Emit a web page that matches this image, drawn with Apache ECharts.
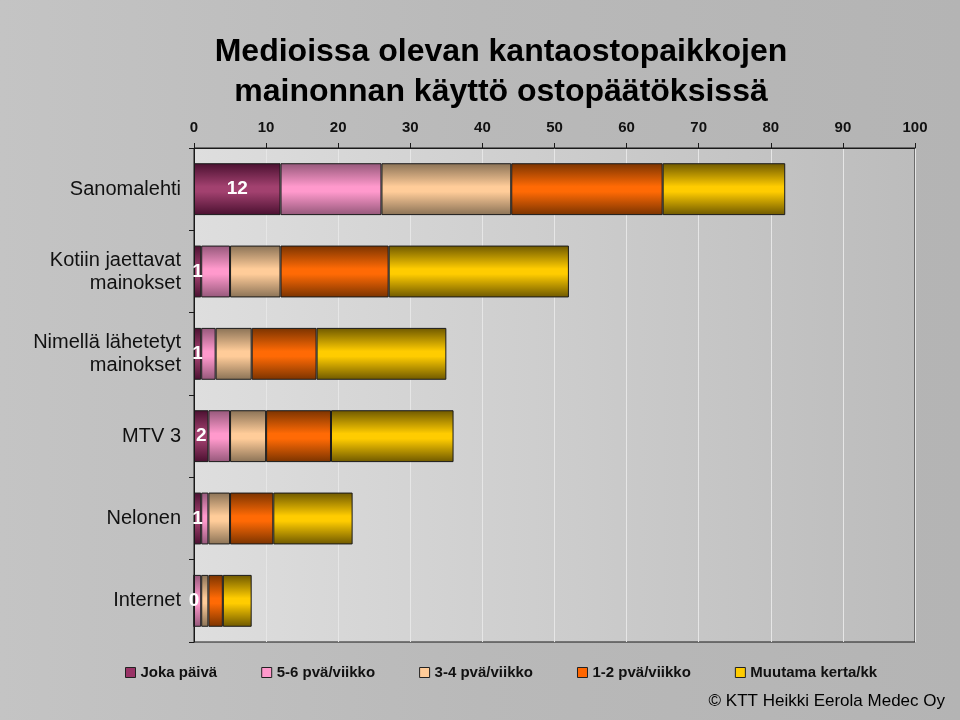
<!DOCTYPE html>
<html>
<head>
<meta charset="utf-8">
<script src="https://cdn.jsdelivr.net/npm/echarts@6/dist/echarts.min.js"></script>
<style>
html,body{margin:0;padding:0;}
#chart{width:960px;height:720px;background:linear-gradient(90deg,#c4c4c4 0%,#b9b9b9 50%,#b4b4b4 100%);}
</style>
</head>
<body>
<div id="chart"></div>
<script>
var titleLines = ['Medioissa olevan kantaostopaikkojen', 'mainonnan käyttö ostopäätöksissä'];
var categories = ['Sanomalehti', 'Kotiin jaettavat\nmainokset', 'Nimellä lähetetyt\nmainokset', 'MTV 3', 'Nelonen', 'Internet'];
var seriesNames = ['Joka päivä', '5-6 pvä/viikko', '3-4 pvä/viikko', '1-2 pvä/viikko', 'Muutama kerta/kk'];
var jokaPaiva = [12, 1, 1, 2, 1, 0];
var viikko56 = [14, 4, 2, 3, 1, 1];
var viikko34 = [18, 7, 5, 5, 3, 1];
var viikko12 = [21, 15, 9, 9, 6, 2];
var muutama = [17, 25, 18, 17, 11, 4];
var xTicks = [0, 10, 20, 30, 40, 50, 60, 70, 80, 90, 100];
var footer = '© KTT Heikki Eerola Medec Oy';

var seriesData = [jokaPaiva, viikko56, viikko34, viikko12, muutama];
var baseColors = ['#993366', '#ff99cc', '#ffcc99', '#ff6600', '#ffcc00'];
var edgeColors = ['#4a1030', '#95587a', '#8a7256', '#7a3300', '#6e5800'];
var midColors = ['#a2416f', '#ff99cc', '#ffcc99', '#ff6a05', '#ffcc00'];

var chart = echarts.init(document.getElementById('chart'), null, {renderer: 'canvas'});

function grad(i) {
  return new echarts.graphic.LinearGradient(0, 0, 0, 1, [
    {offset: 0, color: edgeColors[i]},
    {offset: 0.45, color: midColors[i]},
    {offset: 0.55, color: midColors[i]},
    {offset: 1, color: edgeColors[i]}
  ]);
}

var series = seriesData.map(function (d, i) {
  return {
    name: seriesNames[i],
    type: 'bar',
    stack: 'total',
    barCategoryGap: '37%',
    data: d,
    itemStyle: {color: grad(i), borderColor: '#1a1a1a', borderWidth: 1},
    label: i === 0 ? {
      show: true, position: 'inside', color: '#ffffff', fontWeight: 'bold',
      fontSize: 19, fontFamily: 'Liberation Sans, Arial, sans-serif'
    } : {show: false},
    emphasis: {disabled: true}
  };
});

var option = {
  animation: false,
  backgroundColor: 'transparent',
  textStyle: {fontFamily: 'Liberation Sans, Arial, sans-serif'},
  graphic: [
    {
      type: 'text', x: 501, y: 32,
      style: {
        text: titleLines.join('\n'), textAlign: 'center', align: 'center',
        font: 'bold 32px "Liberation Sans", Arial, sans-serif',
        lineHeight: 40, fill: '#000',
        textShadowColor: '#ffffff', textShadowOffsetX: 2, textShadowOffsetY: 2, textShadowBlur: 0
      }
    },
    {
      type: 'text', right: 15, top: 693,
      style: {
        text: footer, font: '17px "Liberation Sans", Arial, sans-serif', fill: '#000',
        textShadowColor: '#ffffff', textShadowOffsetX: 1, textShadowOffsetY: 1, textShadowBlur: 0
      }
    }
  ],
  legend: {
    left: 120, top: 660, itemWidth: 10, itemHeight: 10, itemGap: 44,
    textStyle: {fontSize: 15, fontWeight: 'bold', color: '#111', fontFamily: 'Liberation Sans, Arial, sans-serif'},
    data: seriesNames.map(function (n, i) {
      return {name: n, icon: 'rect', itemStyle: {color: baseColors[i], borderColor: '#222', borderWidth: 1}};
    })
  },
  grid: {
    left: 194, right: 45, top: 148, bottom: 78, containLabel: false,
    show: true,
    backgroundColor: new echarts.graphic.LinearGradient(0, 0, 1, 0, [
      {offset: 0, color: '#dedede'}, {offset: 1, color: '#bcbcbc'}
    ]),
    borderColor: '#1a1a1a', borderWidth: 1
  },
  xAxis: {
    type: 'value', position: 'top', min: xTicks[0], max: xTicks[xTicks.length - 1], interval: 10,
    axisLine: {show: true, lineStyle: {color: '#1a1a1a', width: 1}},
    axisTick: {show: true, length: 5, lineStyle: {color: '#1a1a1a'}},
    axisLabel: {fontSize: 15, fontWeight: 'bold', color: '#111', margin: 13},
    splitLine: {show: true, lineStyle: {color: '#e6e6e6', width: 1}}
  },
  yAxis: {
    type: 'category', inverse: true, data: categories,
    axisLine: {show: true, lineStyle: {color: '#1a1a1a', width: 1}},
    axisTick: {show: true, length: 5, lineStyle: {color: '#1a1a1a'}},
    axisLabel: {fontSize: 20, color: '#111', margin: 13, lineHeight: 23, align: 'right'},
    splitLine: {show: false}
  },
  series: series
};
chart.setOption(option);
</script>
</body>
</html>
